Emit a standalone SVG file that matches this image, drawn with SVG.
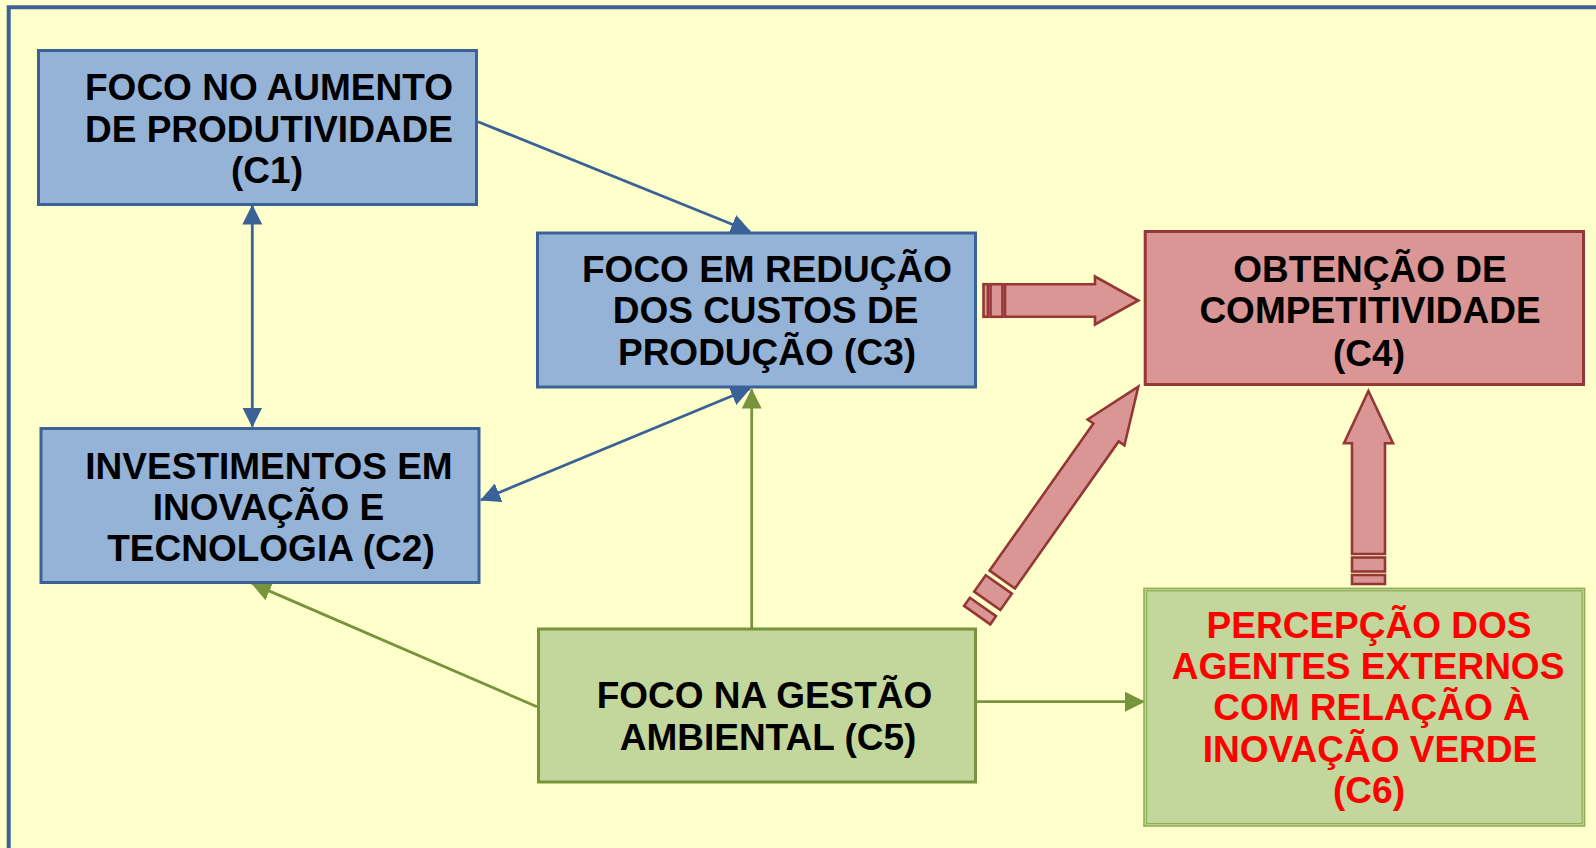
<svg xmlns="http://www.w3.org/2000/svg" width="1596" height="848" viewBox="0 0 1596 848">
<defs>
<style>
.bg{fill:#FFFFCC}
.frame{fill:none;stroke:#3A6296;stroke-width:4}
.blue{fill:#95B3D7;stroke:#3A6296;stroke-width:3}
.green{fill:#C3D69B;stroke:#77933C;stroke-width:3}
.red{fill:#D99694;stroke:#953735;stroke-width:3}
.c6o{fill:#C3D69B;stroke:#8FAE58;stroke-width:1.6}
.c6i{fill:none;stroke:#8FAE58;stroke-width:1.2}
.t{font-family:"Liberation Sans",Arial,"Helvetica",sans-serif;font-weight:bold;font-size:37px;text-anchor:middle;fill:#000000}
.tr{fill:#FF0000}
.lb{fill:none;stroke:#3A6296;stroke-width:2.8}
.lg{fill:none;stroke:#77933C;stroke-width:2.8}
.blk{fill:#D99694;stroke:#953735;stroke-width:2.6;stroke-linejoin:miter}
</style>
<marker id="ab" markerUnits="userSpaceOnUse" markerWidth="20" markerHeight="20" refX="19" refY="10" orient="auto-start-reverse" viewBox="0 0 20 20">
<path d="M0,0 L20,10 L0,20 z" fill="#3A6296"/>
</marker>
<marker id="ag" markerUnits="userSpaceOnUse" markerWidth="20" markerHeight="20" refX="19" refY="10" orient="auto-start-reverse" viewBox="0 0 20 20">
<path d="M0,0 L20,10 L0,20 z" fill="#77933C"/>
</marker>
</defs>
<rect class="bg" x="0" y="0" width="1596" height="848"/>
<path class="frame" d="M8.7,850 V7.2 H1600"/>

<g id="connectors">
<line class="lb" x1="478" y1="121.7" x2="750" y2="231.5" marker-end="url(#ab)"/>
<line class="lb" x1="252.3" y1="205.5" x2="252.3" y2="426.5" marker-start="url(#ab)" marker-end="url(#ab)"/>
<line class="lb" x1="750" y1="388.5" x2="481" y2="500" marker-start="url(#ab)" marker-end="url(#ab)"/>
<line class="lg" x1="751.7" y1="628" x2="751.7" y2="389.5" marker-end="url(#ag)"/>
<line class="lg" x1="537" y1="706.7" x2="252" y2="583.5" marker-end="url(#ag)"/>
<line class="lg" x1="977" y1="701.7" x2="1144" y2="701.7" marker-end="url(#ag)"/>
<g id="arrow-c3-c4">
<rect class="blk" x="983.5" y="284.2" width="4.5" height="32.6"/>
<rect class="blk" x="990.5" y="284.2" width="12" height="32.6"/>
<polygon class="blk" points="1005,284.2 1095,284.2 1095,276.5 1138.3,300.5 1095,324.5 1095,316.8 1005,316.8"/>
</g>
<g id="arrow-c5-c4" transform="translate(1138.3,386.7) rotate(-54.8)">
<rect class="blk" x="-279.5" y="-16" width="10" height="32"/>
<rect class="blk" x="-262" y="-16" width="20" height="32"/>
<polygon class="blk" points="-236,-15.5 -56,-15.5 -56,-22.5 0,0 -56,22.5 -56,15.5 -236,15.5"/>
</g>
<g id="arrow-c6-c4">
<rect class="blk" x="1352" y="575" width="33" height="9"/>
<rect class="blk" x="1352" y="557.5" width="33" height="14"/>
<polygon class="blk" points="1352,554 1352,443.3 1344,443.3 1368.4,391 1393,443.3 1385,443.3 1385,554"/>
</g>
</g>

<g id="C1">
<rect class="blue" x="38.5" y="50.5" width="438" height="154"/>
<text class="t" x="269" y="100">FOCO NO AUMENTO</text>
<text class="t" x="269" y="141.5">DE PRODUTIVIDADE</text>
<text class="t" x="267" y="182.5">(C1)</text>
</g>

<g id="C2">
<rect class="blue" x="41" y="428.5" width="438" height="154"/>
<text class="t" x="269" y="478.5">INVESTIMENTOS EM</text>
<text class="t" x="268.5" y="520">INOVAÇÃO E</text>
<text class="t" x="271" y="560.5">TECNOLOGIA (C2)</text>
</g>

<g id="C3">
<rect class="blue" x="537.5" y="233" width="438" height="154"/>
<text class="t" x="767" y="281.7">FOCO EM REDUÇÃO</text>
<text class="t" x="765.5" y="323">DOS CUSTOS DE</text>
<text class="t" x="767" y="365">PRODUÇÃO (C3)</text>
</g>

<g id="C4">
<rect class="red" x="1145.2" y="231.5" width="438.3" height="153"/>
<text class="t" x="1370" y="281.7">OBTENÇÃO DE</text>
<text class="t" x="1370" y="323.3">COMPETITIVIDADE</text>
<text class="t" x="1369" y="365.5">(C4)</text>
</g>

<g id="C5">
<rect class="green" x="538.5" y="629" width="437" height="153"/>
<text class="t" x="764.5" y="707.7">FOCO NA GESTÃO</text>
<text class="t" x="768" y="750">AMBIENTAL (C5)</text>
</g>

<g id="C6">
<rect class="c6o" x="1144" y="588.4" width="440.6" height="237.6"/>
<rect class="c6i" x="1146.6" y="590.8" width="435.4" height="232.8"/>
<text class="t tr" x="1369" y="637.7">PERCEPÇÃO DOS</text>
<text class="t tr" x="1368" y="679.3">AGENTES EXTERNOS</text>
<text class="t tr" x="1371.5" y="719.5">COM RELAÇÃO À</text>
<text class="t tr" x="1370" y="761.5">INOVAÇÃO VERDE</text>
<text class="t tr" x="1369" y="803">(C6)</text>
</g>
</svg>
